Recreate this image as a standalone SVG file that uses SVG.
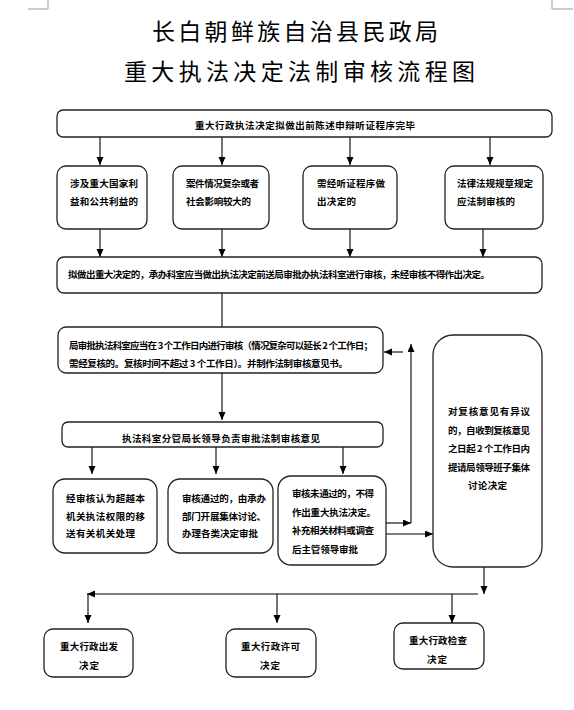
<svg xmlns="http://www.w3.org/2000/svg" width="574" height="710" viewBox="0 0 574 710">
<defs>
<marker id="ah" markerWidth="8" markerHeight="8" refX="8" refY="3.5" orient="auto" markerUnits="userSpaceOnUse">
<path d="M0,0 L8,3.5 L0,7 z" fill="#000"/>
</marker>
<style>
.box{fill:#fff;stroke:#222;stroke-width:1.3}
.t{font-family:"Noto Sans CJK SC","Noto Sans",sans-serif;font-size:9.5px;font-weight:700;fill:#000}
.title{font-family:"Noto Sans CJK SC","Noto Sans",sans-serif;font-size:23px;fill:#000}
.ln{fill:none;stroke:#000;stroke-width:1.1}
.arr{fill:none;stroke:#000;stroke-width:1.1;marker-end:url(#ah)}
.mk{fill:none;stroke:#999;stroke-width:1}
</style>
</defs>
<rect width="574" height="710" fill="#fff"/>
<path class="mk" d="M28,9 H48 V0 M552,0 V9 H573"/>
<text class="title" x="152" y="40" textLength="286" lengthAdjust="spacing">长白朝鲜族自治县民政局</text>
<text class="title" x="124" y="80" textLength="351" lengthAdjust="spacing">重大执法决定法制审核流程图</text>

<g id="connectors">
<path class="arr" d="M100,137 V165"/>
<path class="arr" d="M222,137 V165"/>
<path class="arr" d="M350,137 V165"/>
<path class="arr" d="M490,137 V165"/>
<path class="arr" d="M100,229 V257"/>
<path class="arr" d="M222,229 V257"/>
<path class="arr" d="M350,229 V257"/>
<path class="arr" d="M483,229 V257"/>
<path class="ln" d="M222,293 V327"/>
<path class="arr" d="M222,373 V420"/>
<path class="arr" d="M92,447 V474"/>
<path class="arr" d="M216,447 V474"/>
<path class="arr" d="M343,447 V474"/>
<path class="arr" d="M386,523 H411"/>
<path class="arr" d="M411,523 V344"/>
<path class="arr" d="M403,352 H384"/>
<path class="arr" d="M386,534 H433"/>
<path class="arr" d="M484,567 V594"/>
<path class="arr" d="M478,594 H87"/>
<path class="arr" d="M88,594 V623"/>
<path class="arr" d="M277,594 V623"/>
<path class="arr" d="M452,594 V623"/>
</g>

<g id="n1">
<rect class="box" x="57" y="110" width="495" height="27" rx="6"/>
<text class="t" x="195" y="128.5" textLength="220" lengthAdjust="spacing">重大行政执法决定拟做出前陈述申辩听证程序完毕</text>
</g>
<g id="n2">
<rect class="box" x="57" y="166" width="90" height="63" rx="9"/>
<text class="t" x="70" y="186.8" textLength="68" lengthAdjust="spacing">涉及重大国家利</text>
<text class="t" x="70" y="205" textLength="68" lengthAdjust="spacing">益和公共利益的</text>
</g>
<g id="n3">
<rect class="box" x="173" y="166" width="96" height="63" rx="9"/>
<text class="t" x="186" y="186.8" textLength="73" lengthAdjust="spacing">案件情况复杂或者</text>
<text class="t" x="186" y="205" textLength="65" lengthAdjust="spacing">社会影响较大的</text>
</g>
<g id="n4">
<rect class="box" x="303" y="166" width="94" height="63" rx="9"/>
<text class="t" x="317" y="186.8" textLength="68" lengthAdjust="spacing">需经听证程序做</text>
<text class="t" x="317" y="205" textLength="39" lengthAdjust="spacing">出决定的</text>
</g>
<g id="n5">
<rect class="box" x="445" y="166" width="98" height="63" rx="9"/>
<text class="t" x="457" y="186.8" textLength="76" lengthAdjust="spacing">法律法规规章规定</text>
<text class="t" x="457" y="205" textLength="58" lengthAdjust="spacing">应法制审核的</text>
</g>
<g id="n6">
<rect class="box" x="57" y="257" width="485" height="36" rx="7"/>
<text class="t" x="68" y="277.5" textLength="422" lengthAdjust="spacing">拟做出重大决定的，承办科室应当做出执法决定前送局审批办执法科室进行审核，未经审核不得作出决定。</text>
</g>
<g id="n7">
<rect class="box" x="58" y="327" width="325" height="46" rx="8"/>
<text class="t" x="69" y="348.5" textLength="304" lengthAdjust="spacing">局审批执法科室应当在 3 个工作日内进行审核（情况复杂可以延长 2 个工作日；</text>
<text class="t" x="69" y="366.5" textLength="279" lengthAdjust="spacing">需经复核的。复核时间不超过 3 个工作日）。并制作法制审核意见书。</text>
</g>
<g id="n8">
<rect class="box" x="433" y="335" width="109" height="232" rx="20"/>
<text class="t" x="448" y="414.5" textLength="82" lengthAdjust="spacing">对复核意见有异议</text>
<text class="t" x="448" y="433.5" textLength="82" lengthAdjust="spacing">的，自收到复核意见</text>
<text class="t" x="448" y="451.5" textLength="82" lengthAdjust="spacing">之日起 2 个工作日内</text>
<text class="t" x="448" y="470.5" textLength="82" lengthAdjust="spacing">提请局领导班子集体</text>
<text class="t" x="468" y="488.5" textLength="39" lengthAdjust="spacing">讨论决定</text>
</g>
<g id="n9">
<rect class="box" x="62" y="422" width="321" height="25" rx="6"/>
<text class="t" x="122" y="441.5" textLength="198" lengthAdjust="spacing">执法科室分管局长领导负责审批法制审核意见</text>
</g>
<g id="n10">
<rect class="box" x="53" y="479" width="104" height="74" rx="12"/>
<text class="t" x="66" y="501.5" textLength="79" lengthAdjust="spacing">经审核认为超越本</text>
<text class="t" x="66" y="519.5" textLength="79" lengthAdjust="spacing">机关执法权限的移</text>
<text class="t" x="66" y="536.5" textLength="69" lengthAdjust="spacing">送有关机关处理</text>
</g>
<g id="n11">
<rect class="box" x="168" y="479" width="105" height="74" rx="12"/>
<text class="t" x="182" y="501.5" textLength="84" lengthAdjust="spacing">审核通过的，由承办</text>
<text class="t" x="182" y="519.5" textLength="84" lengthAdjust="spacing">部门开展集体讨论、</text>
<text class="t" x="182" y="536.5" textLength="76" lengthAdjust="spacing">办理各类决定审批</text>
</g>
<g id="n12">
<rect class="box" x="278" y="476" width="108" height="89" rx="13"/>
<text class="t" x="292" y="496.5" textLength="82" lengthAdjust="spacing">审核未通过的，不得</text>
<text class="t" x="292" y="515.5" textLength="84" lengthAdjust="spacing">作出重大执法决定。</text>
<text class="t" x="292" y="533.5" textLength="82" lengthAdjust="spacing">补充相关材料或调查</text>
<text class="t" x="292" y="552.5" textLength="66" lengthAdjust="spacing">后主管领导审批</text>
</g>
<g id="n13">
<rect class="box" x="44" y="629" width="89" height="48" rx="9"/>
<text class="t" x="60" y="649.5" textLength="58" lengthAdjust="spacing">重大行政出发</text>
<text class="t" x="79" y="668.5" textLength="20" lengthAdjust="spacing">决定</text>
</g>
<g id="n14">
<rect class="box" x="226" y="629" width="90" height="48" rx="9"/>
<text class="t" x="241" y="649.5" textLength="59" lengthAdjust="spacing">重大行政许可</text>
<text class="t" x="260" y="668.5" textLength="20" lengthAdjust="spacing">决定</text>
</g>
<g id="n15">
<rect class="box" x="394" y="623" width="90" height="46" rx="9"/>
<text class="t" x="409" y="643.5" textLength="58" lengthAdjust="spacing">重大行政检查</text>
<text class="t" x="427" y="662.5" textLength="20" lengthAdjust="spacing">决定</text>
</g>
</svg>
